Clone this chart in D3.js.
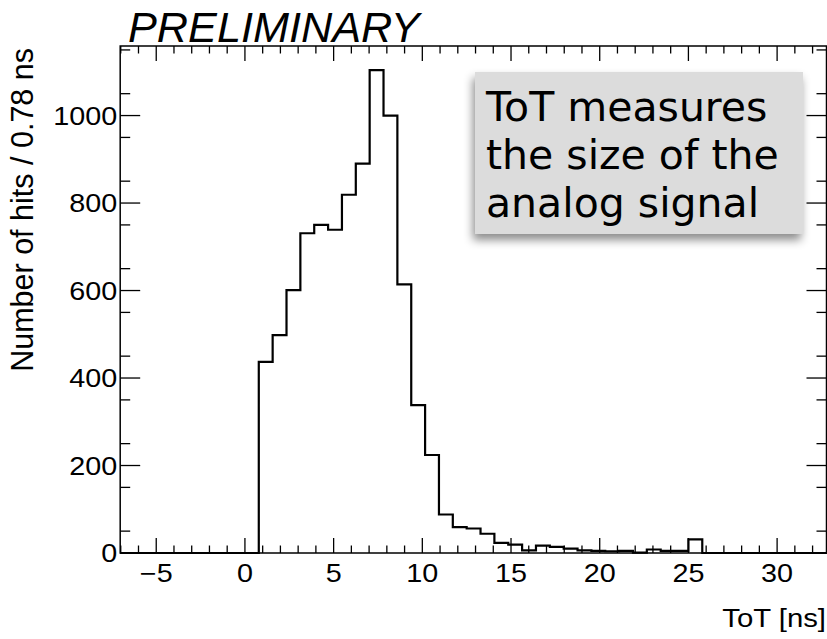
<!DOCTYPE html>
<html>
<head>
<meta charset="utf-8">
<script src="https://d3js.org/d3.v7.min.js"></script>
<style>
  body { margin: 0; background: #fff; }
  text { font-family: "Liberation Sans", Arial, Helvetica, sans-serif; }
</style>
</head>
<body>
<div id="graph"></div>
<script>
// histogram: bin width 0.78125 ns, first bin starts at bin index -9
const binWidth = 0.78125;
const firstBin = -9;
const counts = [0, 0, 0, 0, 0, 0, 0, 0, 0, 0,
                437, 498, 601, 731, 750, 739, 819, 890, 1104, 1000,
                614, 338, 224, 88, 59, 56, 44, 23, 19, 6,
                17, 14, 10, 6, 5, 4, 5, 1, 8, 5,
                5, 31, 0, 0, 0, 0, 0, 0, 0, 0, 0];
const xMajorTicks = [-5, 0, 5, 10, 15, 20, 25, 30];
const yMajorTicks = [0, 200, 400, 600, 800, 1000];
const noteLines = ["ToT measures", "the size of the", "analog signal"];

let width = 827, height = 639;
let margin = {top: 46, right: 0, bottom: 86, left: 120.2};
let stretch = 1.15; // labels in the original are a bit wider than tall

let svg = d3.select("#graph")
    .append("svg")
    .attr("width", width)
    .attr("height", height);

let x = d3.scaleLinear()
    .domain([firstBin * binWidth, (firstBin + counts.length) * binWidth])
    .range([margin.left, width - margin.right]);

let y = d3.scaleLinear()
    .domain([0, 1159])
    .range([height - margin.bottom, margin.top]);

let x0 = x.range()[0], x1 = x.range()[1];
let y0 = y.range()[0], y1 = y.range()[1];

// minor ticks every 1 ns / 50 hits
let xMinor = d3.range(-7, 33, 1).filter(function(d) { return d % 5 !== 0; });
let yMinor = d3.range(50, 1159, 100);

function drawXTicks(g, ypos, dir) {
    g.selectAll("line.maj").data(xMajorTicks).enter().append("line")
        .attr("x1", function(d) { return x(d); }).attr("x2", function(d) { return x(d); })
        .attr("y1", ypos).attr("y2", ypos + dir * 15)
        .attr("stroke", "#000").attr("stroke-width", 1.3);
    g.selectAll("line.min").data(xMinor).enter().append("line")
        .attr("x1", function(d) { return x(d); }).attr("x2", function(d) { return x(d); })
        .attr("y1", ypos).attr("y2", ypos + dir * 7.5)
        .attr("stroke", "#000").attr("stroke-width", 1.3);
}

function drawYTicks(g, xpos, dir) {
    g.selectAll("line.maj").data(yMajorTicks).enter().append("line")
        .attr("x1", xpos).attr("x2", xpos + dir * 20)
        .attr("y1", function(d) { return y(d); }).attr("y2", function(d) { return y(d); })
        .attr("stroke", "#000").attr("stroke-width", 1.3);
    g.selectAll("line.min").data(yMinor).enter().append("line")
        .attr("x1", xpos).attr("x2", xpos + dir * 10)
        .attr("y1", function(d) { return y(d); }).attr("y2", function(d) { return y(d); })
        .attr("stroke", "#000").attr("stroke-width", 1.3);
}

drawXTicks(svg.append("g"), y0, -1);
drawXTicks(svg.append("g"), y1, 1);
drawYTicks(svg.append("g"), x0, 1);
drawYTicks(svg.append("g"), x1 - 0.5, -1);

// frame
svg.append("rect")
    .attr("x", x0).attr("y", y1)
    .attr("width", x1 - x0 - 0.5).attr("height", y0 - y1)
    .attr("fill", "none").attr("stroke", "#000").attr("stroke-width", 1.5);

// histogram outline
let bins = counts.map(function(c, i) {
    return {lo: (firstBin + i) * binWidth, hi: (firstBin + i + 1) * binWidth, n: c};
});
let pts = [[bins[0].lo, 0]];
bins.forEach(function(b) { pts.push([b.lo, b.n]); pts.push([b.hi, b.n]); });
pts.push([bins[bins.length - 1].hi, 0]);

let line = d3.line()
    .x(function(d) { return x(d[0]); })
    .y(function(d) { return y(d[1]); });

svg.append("path")
    .datum(pts)
    .attr("d", line)
    .attr("fill", "none")
    .attr("stroke", "#000")
    .attr("stroke-width", 2.2);

// tick labels
svg.append("g").selectAll("text").data(xMajorTicks).enter().append("text")
    .attr("transform", function(d) { return `translate(${x(d)}, ${y0 + 29}) scale(${stretch}, 1)`; })
    .attr("text-anchor", "middle")
    .style("font-size", "25px")
    .text(function(d) { return d < 0 ? "\u2212" + Math.abs(d) : d; });

svg.append("g").selectAll("text").data(yMajorTicks).enter().append("text")
    .attr("transform", function(d) { return `translate(${x0 - 3}, ${y(d) + 9}) scale(${stretch}, 1)`; })
    .attr("text-anchor", "end")
    .style("font-size", "25px")
    .text(function(d) { return d; });

// axis titles
svg.append("text")
    .attr("transform", `translate(33, ${y1 + 2}) rotate(-90)`)
    .attr("text-anchor", "end")
    .style("font-size", "30.5px")
    .text("Number of hits / 0.78 ns");

svg.append("text")
    .attr("transform", `translate(${x1 - 1}, 627) scale(${stretch}, 1)`)
    .attr("text-anchor", "end")
    .style("font-size", "25.5px")
    .text("ToT [ns]");

svg.append("text")
    .attr("transform", "translate(128, 42) scale(1.03, 1)")
    .style("font-size", "42px")
    .style("font-style", "italic")
    .text("PRELIMINARY");

// annotation box
let defs = svg.append("defs");
let shadow = defs.append("filter").attr("id", "shadow")
    .attr("x", "-20%").attr("y", "-20%").attr("width", "140%").attr("height", "150%");
shadow.append("feDropShadow")
    .attr("dx", -2).attr("dy", 6).attr("stdDeviation", 5)
    .attr("flood-color", "#000").attr("flood-opacity", 0.45);

svg.append("rect")
    .attr("x", 475).attr("y", 72)
    .attr("width", 328).attr("height", 162)
    .attr("fill", "#dcdcdc")
    .attr("filter", "url(#shadow)");

svg.append("g").selectAll("text").data(noteLines).enter().append("text")
    .attr("x", 486)
    .attr("y", function(d, i) { return 121 + i * 48; })
    .style("font-family", "'DejaVu Sans', sans-serif")
    .style("font-size", "41px")
    .text(function(d) { return d; });
</script>
</body>
</html>
